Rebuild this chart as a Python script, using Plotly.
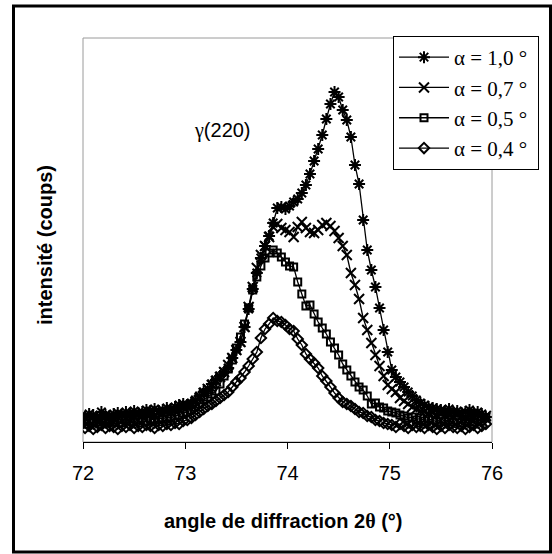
import plotly.graph_objects as go

# 2-theta angles (degrees), step 0.04
angle = [round(71.98 + 0.04 * i, 2) for i in range(100)]

# intensities (arbitrary counts)
alpha_10 = [26,25,28,27,24,30,27,26,28,29,27,30,28,31,29,30,32,31,33,31,32,34,33,35,37,38,37,39,
            42,46,50,53,58,62,66,70,74,84,92,100,115,133,153,169,184,196,206,219,234,235,233,236,
            240,243,249,257,268,281,293,307,323,338,350,345,332,322,305,277,258,222,192,172,155,134,
            112,90,72,65,60,55,50,46,42,39,37,35,34,33,32,31,33,30,31,29,30,32,29,30,28,25]
alpha_07 = [22,24,21,25,23,22,26,24,23,25,27,24,26,25,27,26,28,27,26,29,28,30,29,31,32,34,35,37,
            40,44,49,53,57,61,65,70,77,84,92,100,115,135,155,174,187,196,205,215,218,214,212,210,
            205,215,220,214,210,209,212,217,219,216,211,204,196,187,169,157,143,124,112,99,87,76,
            66,57,53,50,44,41,38,35,33,31,30,28,29,27,28,26,27,25,27,26,24,26,25,27,24,26]
alpha_05 = [20,18,21,19,20,22,19,21,20,22,19,21,23,20,22,24,21,23,22,24,23,25,24,26,27,29,30,32,
            35,38,42,45,48,51,58,66,73,82,94,105,118,134,152,165,176,184,189,192,189,185,180,176,
            175,160,148,136,137,128,120,114,108,100,94,87,78,72,66,60,55,52,46,38,39,35,34,31,
            30,29,27,26,24,25,22,24,21,23,22,20,23,21,22,20,22,19,21,23,20,22,21,24]
alpha_04 = [17,14,16,13,15,17,14,16,15,13,16,15,17,14,16,15,17,16,14,17,16,18,17,19,18,21,22,24,
            27,30,33,36,38,41,44,47,50,55,60,64,70,76,83,90,104,113,118,124,121,120,117,113,
            111,103,97,88,83,79,74,66,61,55,49,44,40,38,36,33,30,29,26,25,22,21,19,
            18,17,15,18,16,14,17,15,16,14,17,15,13,16,14,17,15,14,16,13,15,17,14,16,18]

series_names = ["α = 1,0 °", "α = 0,7 °", "α = 0,5 °", "α = 0,4 °"]
series_values = [alpha_10, alpha_07, alpha_05, alpha_04]
series_symbols = ["asterisk-open", "x-thin-open", "square-open", "diamond-open"]
series_sizes = [10, 10, 7, 8]
x_ticks = [72, 73, 74, 75, 76]

fig = go.Figure()
for name, vals, sym, sz in zip(series_names, series_values, series_symbols, series_sizes):
    fig.add_trace(go.Scatter(
        x=angle, y=[v * 10 for v in vals], name=name + "\u00a0", mode="lines+markers",
        line=dict(color="black", width=1.3),
        marker=dict(symbol=sym, size=sz, color="black",
                    line=dict(color="black", width=2)),
    ))

L, R, T, B = 83, 60, 38, 112
W, H = 552, 554
pw, ph = W - L - R, H - T - B

def px(xp):
    return (xp - L) / pw

def py(yp):
    return (H - B - yp) / ph

fig.update_layout(
    width=W, height=H,
    margin=dict(l=L, r=R, t=T, b=B),
    paper_bgcolor="white", plot_bgcolor="white",
    showlegend=True,
    legend=dict(
        x=px(393), y=py(36), xanchor="left", yanchor="top",
        bgcolor="white", bordercolor="black", borderwidth=1,
        font=dict(family="Liberation Serif", size=21, color="black"),
        tracegroupgap=0, itemwidth=50,
    ),
    xaxis=dict(
        range=[72, 76], tickvals=x_ticks, ticktext=[str(t) for t in x_ticks],
        showgrid=False, zeroline=False,
        showline=True, linecolor="black", linewidth=1,
        ticks="outside", ticklen=6, tickcolor="black", tickwidth=1,
        ticklabelstandoff=7,
        tickfont=dict(family="Liberation Sans", size=20, color="black"),
    ),
    yaxis=dict(
        range=[0, 4040], showgrid=False, zeroline=False,
        showticklabels=False, ticks="",
        showline=False,
    ),
    shapes=[
        # plot-area frame (grey)
        dict(type="rect", xref="paper", yref="paper", x0=0, x1=1, y0=0, y1=1,
             line=dict(color="#9a9a9a", width=1), layer="below"),
        # outer border
        dict(type="rect", xref="paper", yref="paper",
             x0=px(13.5), x1=px(550.5), y0=py(552), y1=py(6),
             line=dict(color="black", width=3)),
    ],
    annotations=[
        dict(text="<span style='font-family:Liberation Serif'>γ</span>(220)",
             xref="paper", yref="paper", x=px(222), y=py(130),
             xanchor="center", yanchor="middle", showarrow=False,
             font=dict(family="Liberation Sans", size=20, color="black")),
        dict(text="<b>angle de diffraction 2<span style='font-family:Liberation Serif'>θ</span> (°)</b>",
             xref="paper", yref="paper", x=px(283), y=py(521),
             xanchor="center", yanchor="middle", showarrow=False,
             font=dict(family="Liberation Sans", size=20, color="black")),
        dict(text="<b>intensité (coups)</b>",
             xref="paper", yref="paper", x=px(45), y=py(245),
             xanchor="center", yanchor="middle", showarrow=False, textangle=-90,
             font=dict(family="Liberation Sans", size=20, color="black")),
    ],
)

fig.write_html("out.html", config={"displayModeBar": False})

# remove the default page margin so the figure sits at the window origin
with open("out.html", "r", encoding="utf-8") as f:
    html = f.read()
html = html.replace("<body>", "<body style=\"margin:0;padding:0;overflow:hidden\">", 1)
with open("out.html", "w", encoding="utf-8") as f:
    f.write(html)
